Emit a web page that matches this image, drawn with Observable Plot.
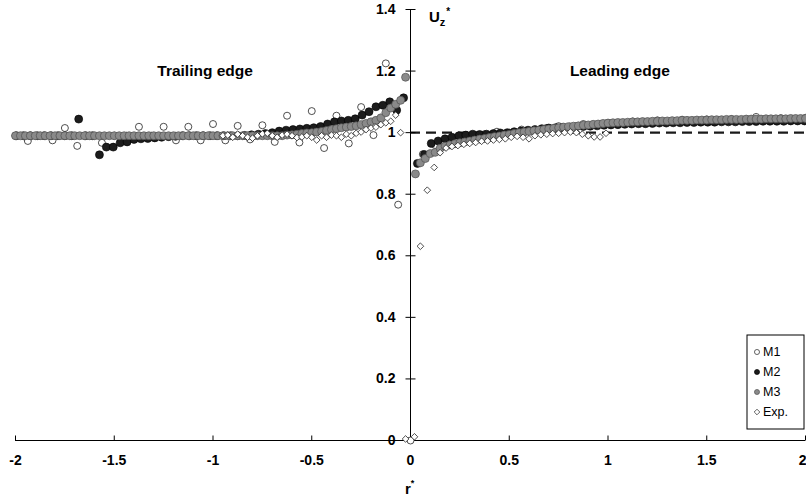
<!DOCTYPE html>
<html><head><meta charset="utf-8">
<script src="https://cdn.jsdelivr.net/npm/d3@7"></script>
<script src="https://cdn.jsdelivr.net/npm/@observablehq/plot@0.6"></script>
<style>
html,body{margin:0;padding:0;background:#fff;}
#chart{width:806px;height:498px;position:relative;}
svg{display:block;}
</style></head><body><div id="chart"></div>
<script>
// ---------- data ----------
const xTicks = [-2, -1.5, -1, -0.5, 0, 0.5, 1, 1.5, 2];
const yTicks = [0, 0.2, 0.4, 0.6, 0.8, 1, 1.2, 1.4];
const seriesNames = ["M1", "M2", "M3", "Exp."];
const annotations = [{text: "Trailing edge", r: -1.04, u: 1.2}, {text: "Leading edge", r: 1.06, u: 1.2}];
const refLine = [{x1: 0, x2: 2, u: 1}];

// M1 (open circles)
const m1R = [-2, -1.9375, -1.875, -1.8125, -1.75, -1.6875, -1.625, -1.5625, -1.5, -1.4375,
  -1.375, -1.3125, -1.25, -1.1875, -1.125, -1.0625, -1, -0.9375, -0.875, -0.8125,
  -0.75, -0.6875, -0.625, -0.5625, -0.5, -0.4375, -0.375, -0.3125, -0.25, -0.1875,
  -0.125, -0.0625, 0,
  0.0625, 0.125, 0.1875, 0.25, 0.3125, 0.375, 0.4375, 0.5, 0.5625, 0.625,
  0.6875, 0.75, 0.8125, 0.875, 0.9375, 1, 1.0625, 1.125, 1.1875, 1.25,
  1.3125, 1.375, 1.4375, 1.5, 1.5625, 1.625, 1.6875, 1.75, 1.8125, 1.875, 1.9375, 2];
const m1U = [0.99, 0.973, 0.99, 0.975, 1.015, 0.957, 0.99, 0.967, 0.99, 0.99,
  1.019, 0.99, 1.019, 0.975, 1.019, 0.975, 1.028, 0.975, 1.022, 0.978,
  1.024, 0.97, 1.055, 0.968, 1.07, 0.95, 1.055, 0.965, 1.083, 0.992,
  1.225, 0.766, 0,
  0.93, 0.96, 0.975, 0.985, 0.99, 0.995, 1.003, 1.0, 1.01, 1.008,
  1.015, 1.021, 1.018, 1.028, 1.025, 1.032, 1.03, 1.036, 1.033, 1.04,
  1.036, 1.042, 1.038, 1.043, 1.04, 1.044, 1.041, 1.051, 1.042, 1.047, 1.043, 1.048];

// M2 (black circles)
const m2R = [-1.995, -1.96, -1.925, -1.89, -1.855, -1.82, -1.785, -1.75, -1.715, -1.68,
  -1.645, -1.61, -1.575, -1.54, -1.505, -1.47, -1.435, -1.4, -1.365, -1.33,
  -1.295, -1.26, -1.225, -1.19, -1.155, -1.12, -1.085, -1.05, -1.015, -0.98,
  -0.945, -0.91, -0.875, -0.84, -0.805, -0.77, -0.735, -0.7, -0.665, -0.63,
  -0.595, -0.56, -0.525, -0.49, -0.455, -0.42, -0.385, -0.35, -0.315, -0.28,
  -0.245, -0.21, -0.175, -0.14, -0.105, -0.07, -0.035,
  0.035, 0.07, 0.105, 0.14, 0.175, 0.21, 0.245, 0.28, 0.315, 0.35,
  0.385, 0.42, 0.455, 0.49, 0.525, 0.56, 0.595, 0.63, 0.665, 0.7,
  0.735, 0.77, 0.805, 0.84, 0.875, 0.91, 0.945, 0.98, 1.015, 1.05,
  1.085, 1.12, 1.155, 1.19, 1.225, 1.26, 1.295, 1.33, 1.365, 1.4,
  1.435, 1.47, 1.505, 1.54, 1.575, 1.61, 1.645, 1.68, 1.715, 1.75,
  1.785, 1.82, 1.855, 1.89, 1.925, 1.96, 1.995];
const m2U = [0.99, 0.99, 0.99, 0.99, 0.99, 0.99, 0.99, 0.99, 0.99, 1.044,
  0.99, 0.99, 0.928, 0.953, 0.953, 0.967, 0.97, 0.978, 0.98, 0.981,
  0.983, 0.985, 0.987, 0.988, 0.99, 0.99, 0.99, 0.99, 0.99, 0.99,
  0.99, 0.99, 0.99, 0.991, 0.993, 0.995, 0.997, 1.0, 1.005, 1.008,
  1.01, 1.012, 1.014, 1.016, 1.02, 1.028, 1.035, 1.038, 1.04, 1.045,
  1.057, 1.068, 1.084, 1.089, 1.1, 1.073, 1.113,
  0.9, 0.929, 0.965, 0.973, 0.98, 0.985, 0.99, 0.992, 0.995, 0.994,
  0.995, 0.997, 0.999, 1.0, 1.003, 1.005, 1.008, 1.01, 1.013, 1.015,
  1.016, 1.017, 1.018, 1.019, 1.02, 1.021, 1.022, 1.024, 1.025, 1.026,
  1.027, 1.028, 1.029, 1.029, 1.03, 1.031, 1.031, 1.032, 1.032, 1.033,
  1.033, 1.034, 1.034, 1.034, 1.035, 1.035, 1.035, 1.036, 1.036, 1.036,
  1.037, 1.037, 1.037, 1.037, 1.038, 1.038, 1.038];

// M3 (grey circles)
const m3R = [-2, -1.975, -1.95, -1.925, -1.9, -1.875, -1.85, -1.825, -1.8, -1.775,
  -1.75, -1.725, -1.7, -1.675, -1.65, -1.625, -1.6, -1.575, -1.55, -1.525,
  -1.5, -1.475, -1.45, -1.425, -1.4, -1.375, -1.35, -1.325, -1.3, -1.275,
  -1.25, -1.225, -1.2, -1.175, -1.15, -1.125, -1.1, -1.075, -1.05, -1.025,
  -1, -0.975, -0.95, -0.925, -0.9, -0.875, -0.85, -0.825, -0.8, -0.775,
  -0.75, -0.725, -0.7, -0.675, -0.65, -0.625, -0.6, -0.575, -0.55, -0.525,
  -0.5, -0.475, -0.45, -0.425, -0.4, -0.375, -0.35, -0.325, -0.3, -0.275,
  -0.25, -0.225, -0.2, -0.175, -0.15, -0.125, -0.1, -0.075, -0.05, -0.025,
  0.025, 0.05, 0.075, 0.1, 0.125, 0.15, 0.175, 0.2, 0.225, 0.25,
  0.275, 0.3, 0.325, 0.35, 0.375, 0.4, 0.425, 0.45, 0.475, 0.5,
  0.525, 0.55, 0.575, 0.6, 0.625, 0.65, 0.675, 0.7, 0.725, 0.75,
  0.775, 0.8, 0.825, 0.85, 0.875, 0.9, 0.925, 0.95, 0.975, 1,
  1.025, 1.05, 1.075, 1.1, 1.125, 1.15, 1.175, 1.2, 1.225, 1.25,
  1.275, 1.3, 1.325, 1.35, 1.375, 1.4, 1.425, 1.45, 1.475, 1.5,
  1.525, 1.55, 1.575, 1.6, 1.625, 1.65, 1.675, 1.7, 1.725, 1.75,
  1.775, 1.8, 1.825, 1.85, 1.875, 1.9, 1.925, 1.95, 1.975, 2];
const m3U = [0.99, 0.99, 0.99, 0.99, 0.99, 0.99, 0.99, 0.99, 0.99, 0.99,
  0.99, 0.99, 0.99, 0.99, 0.99, 0.99, 0.99, 0.99, 0.99, 0.99,
  0.99, 0.99, 0.99, 0.99, 0.99, 0.99, 0.99, 0.99, 0.99, 0.99,
  0.99, 0.99, 0.99, 0.99, 0.99, 0.99, 0.99, 0.99, 0.99, 0.99,
  0.99, 0.99, 0.99, 0.99, 0.99, 0.99, 0.99, 0.99, 0.99, 0.99,
  0.99, 0.99, 0.99, 0.99, 0.99, 0.992, 0.993, 0.995, 0.997, 0.999,
  1.0, 1.002, 1.004, 1.007, 1.01, 1.013, 1.016, 1.018, 1.02, 1.022,
  1.026, 1.03, 1.035, 1.04, 1.048, 1.065, 1.08, 1.092, 1.105, 1.18,
  0.866, 0.902, 0.916, 0.932, 0.936, 0.949, 0.956, 0.96, 0.964, 0.967,
  0.97, 0.973, 0.976, 0.979, 0.981, 0.984, 0.987, 0.989, 0.992, 0.994,
  0.997, 1.0, 1.002, 1.004, 1.006, 1.008, 1.01, 1.012, 1.014, 1.016,
  1.018, 1.019, 1.021, 1.022, 1.024, 1.025, 1.027, 1.028, 1.03, 1.031,
  1.032, 1.033, 1.033, 1.034, 1.035, 1.035, 1.036, 1.036, 1.037, 1.037,
  1.038, 1.038, 1.039, 1.039, 1.04, 1.04, 1.04, 1.041, 1.041, 1.041,
  1.042, 1.042, 1.042, 1.043, 1.043, 1.043, 1.043, 1.044, 1.044, 1.044,
  1.044, 1.045, 1.045, 1.045, 1.045, 1.045, 1.046, 1.046, 1.046, 1.046];

// Experiment (diamonds)
const expR = [-0.95, -0.925, -0.9, -0.875, -0.85, -0.825, -0.8, -0.775, -0.75, -0.725,
  -0.7, -0.675, -0.65, -0.625, -0.6, -0.575, -0.55, -0.525, -0.5, -0.475,
  -0.45, -0.425, -0.4, -0.375, -0.35, -0.325, -0.3, -0.275, -0.25, -0.225,
  -0.2, -0.175, -0.15, -0.125, -0.1, -0.075, -0.05, -0.025,
  0.02, 0.05, 0.085, 0.12, 0.15, 0.18, 0.21, 0.24, 0.27, 0.3,
  0.33, 0.36, 0.39, 0.42, 0.45, 0.48, 0.51, 0.54, 0.57, 0.6,
  0.63, 0.66, 0.69, 0.72, 0.75, 0.78, 0.81, 0.84, 0.87, 0.9,
  0.93, 0.96, 0.99];
const expU = [0.99, 0.992, 0.985, 0.995, 0.99, 0.985, 0.982, 0.99, 0.996, 0.998,
  0.99, 0.985, 0.992, 0.995, 0.99, 0.984, 0.986, 0.99, 0.985, 0.976,
  0.99, 0.985, 0.992, 0.99, 0.985, 0.995, 0.99, 0.998, 1.002, 1.01,
  1.015, 1.018, 1.026, 1.032, 1.037, 1.057, 1.0, 0.005,
  0.012, 0.631, 0.813, 0.887, 0.935, 0.95, 0.955, 0.958, 0.962, 0.965,
  0.968, 0.972, 0.973, 0.976, 0.978, 0.98, 0.985, 0.988, 0.985, 0.98,
  0.99, 0.993, 0.995, 0.997, 0.998, 1.0, 1.002, 1.0, 0.995, 0.99,
  0.986, 0.986, 0.998];

// ---------- build ----------
const zip = (R, U) => R.map((r, i) => ({r, u: U[i]}));
const m1 = zip(m1R, m1U), m2 = zip(m2R, m2U), m3 = zip(m3R, m3U), ex = zip(expR, expU);

const FONT = "'Liberation Sans', Arial, Helvetica, sans-serif";
const hTick = {draw(ctx) { ctx.moveTo(-5, 0); ctx.lineTo(5, 0); }};
const vTick = {draw(ctx) { ctx.moveTo(0, 0); ctx.lineTo(0, -5); }};
const xMax = xTicks[xTicks.length - 1];

const plot = Plot.plot({
  width: 806, height: 498,
  marginLeft: 15, marginRight: 1, marginTop: 9, marginBottom: 58,
  x: {domain: [-2, 2], axis: null},
  y: {domain: [0, 1.4], axis: null},
  style: {fontFamily: FONT, background: "#fff", color: "#000", overflow: "visible"},
  marks: [
    Plot.ruleY(refLine, {y: "u", x1: "x1", x2: "x2", stroke: "#1a1a1a", strokeWidth: 2.4, strokeDasharray: "10,6"}),
    Plot.ruleY([0], {stroke: "#000", strokeWidth: 1}),
    Plot.ruleX([0], {stroke: "#000", strokeWidth: 1}),
    Plot.dot(yTicks, {x: () => 0, y: d => d, symbol: hTick, r: 5, fill: "none", stroke: "#000", strokeWidth: 1}),
    Plot.text(yTicks, {x: () => 0, y: d => d, text: d => String(d), textAnchor: "end", dx: -15, fontWeight: "bold", fontSize: 14}),
    Plot.dot(xTicks.filter(d => d !== 0), {x: d => d, y: () => 0, symbol: vTick, r: 5, fill: "none", stroke: "#000", strokeWidth: 1}),
    Plot.text(xTicks.filter(d => d !== xMax), {x: d => d, y: () => 0, text: d => String(d), dy: 20, fontWeight: "bold", fontSize: 14}),
    Plot.text([xMax], {x: d => d, y: () => 0, text: d => String(d), dy: 20, dx: 1, textAnchor: "end", fontWeight: "bold", fontSize: 14}),
    Plot.dot(m1, {x: "r", y: "u", r: 3.5, fill: "#fff", stroke: "#222", strokeWidth: 0.8}),
    Plot.dot(m2, {x: "r", y: "u", r: 4, fill: "#1c1c1c", stroke: "#000", strokeWidth: 0.6}),
    Plot.dot(m3, {x: "r", y: "u", r: 4, fill: "#8a8a8a", stroke: "#505050", strokeWidth: 0.7}),
    Plot.dot(ex, {x: "r", y: "u", symbol: "diamond2", r: 3, fill: "#fff", stroke: "#222", strokeWidth: 0.8}),
    Plot.text(annotations, {x: "r", y: "u", text: "text", fontWeight: "bold", fontSize: 15.5})
  ]
});
document.getElementById("chart").appendChild(plot);

// ---------- axis titles & legend ----------
const svg = d3.select(plot);
const xs = plot.scale("x"), ys = plot.scale("y");
const x0 = xs.apply(0), yTop = ys.apply(1.4), yBot = ys.apply(0);

const ut = svg.append("text").attr("x", x0 + 19).attr("y", yTop + 13).attr("text-anchor", "start")
  .attr("font-family", FONT).attr("font-weight", "bold").attr("font-size", 15).attr("fill", "#000");
ut.append("tspan").text("U");
ut.append("tspan").attr("font-size", 11).attr("dy", 4).text("z");
ut.append("tspan").attr("font-size", 10).attr("dy", -11).attr("dx", 1).text("*");

const rt = svg.append("text").attr("x", x0 - 5).attr("y", yBot + 54).attr("text-anchor", "start")
  .attr("font-family", FONT).attr("font-weight", "bold").attr("font-size", 15).attr("fill", "#000");
rt.append("tspan").text("r");
rt.append("tspan").attr("font-size", 9).attr("dy", -8).text("*");

const lg = svg.append("g").attr("transform", "translate(747,335)");
lg.append("rect").attr("width", 57).attr("height", 94).attr("fill", "#fff").attr("stroke", "#000").attr("stroke-width", 1);
const styles = [
  {fill: "#fff", stroke: "#222", sym: d3.symbolCircle},
  {fill: "#1c1c1c", stroke: "#000", sym: d3.symbolCircle},
  {fill: "#8a8a8a", stroke: "#505050", sym: d3.symbolCircle},
  {fill: "#fff", stroke: "#222", sym: d3.symbolDiamond2}
];
seriesNames.forEach((name, i) => {
  const y = 17 + i * 20;
  lg.append("path").attr("transform", `translate(10,${y})`)
    .attr("d", d3.symbol(styles[i].sym, 20)())
    .attr("fill", styles[i].fill).attr("stroke", styles[i].stroke).attr("stroke-width", 0.7);
  lg.append("text").attr("x", 16).attr("y", y).attr("dy", "0.35em").attr("text-anchor", "start")
    .attr("font-family", FONT).attr("font-size", 12.5).attr("fill", "#000").text(name);
});
</script></body></html>
